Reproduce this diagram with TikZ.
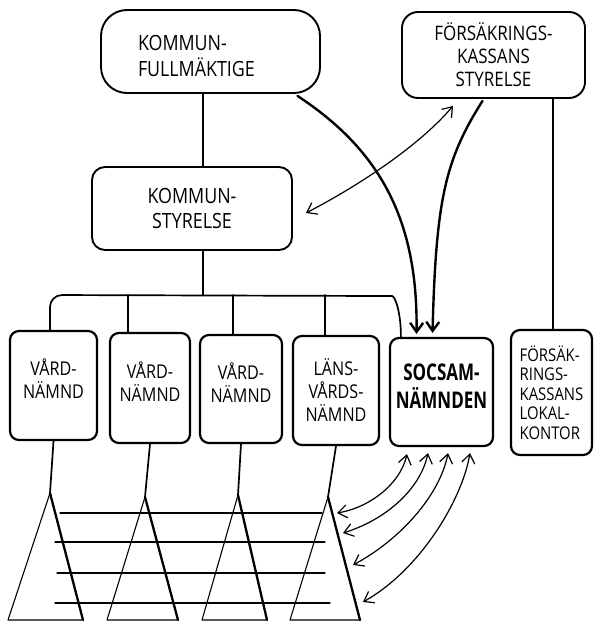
\documentclass[tikz,border=0pt]{standalone}
\usepackage{fontspec}
\setmainfont{Open Sans}[FakeStretch=0.85]
\newfontfamily\boardfont{Open Sans}[FakeStretch=0.74]
\usetikzlibrary{arrows.meta,calc}
\begin{document}
\begin{tikzpicture}[x=1pt,y=-1pt,
  line cap=round, line join=round,
  >={Straight Barb[length=9pt,width=13pt]},
  box/.style={draw, line width=1.9pt, rounded corners=#1, align=center, inner sep=0pt},
  box/.default=10pt,
  unit/.style={box=9pt, line width=2.2pt, font=\fontsize{19}{23}\selectfont},
  tree/.style={line width=1.7pt},
  feed/.style={line width=2.4pt, ->},
  link/.style={line width=1.2pt, <->},
  leg/.style={line width=1.1pt},
  heavyleg/.style={line width=2.3pt},
  rung/.style={line width=1.1pt},
]
\useasboundingbox (0,0) rectangle (596,623);

% upper level
\node[box=26pt, minimum width=219pt, minimum height=83pt, text width=145pt,
      align=left, text height=25pt, font=\fontsize{21}{26}\selectfont]
  (kf) at (210.5,51.5) {KOMMUN-\\FULLMÄKTIGE};
\node[box=16pt, minimum width=183pt, minimum height=86pt,
      font=\fontsize{20}{23}\selectfont]
  (fks) at (493.5,55) {FÖRSÄKRINGS-\\KASSANS\\STYRELSE};
\node[box=13pt, minimum width=200pt, minimum height=83pt,
      font=\fontsize{21}{25}\selectfont]
  (ks) at (192,208.5) {KOMMUN-\\STYRELSE};

% committees
\node[unit, minimum width=87pt, minimum height=109pt, text depth=13pt]
  (b1) at (53.5,385.5) {VÅRD-\\NÄMND};
\node[unit, minimum width=80pt, minimum height=110pt, text depth=13pt]
  (b2) at (150,388) {VÅRD-\\NÄMND};
\node[unit, minimum width=82pt, minimum height=108pt, text depth=13pt]
  (b3) at (241,389) {VÅRD-\\NÄMND};
\node[unit, minimum width=86pt, minimum height=109pt]
  (b4) at (336,390.5) {LÄNS-\\VÅRDS-\\NÄMND};
\node[unit, minimum width=103pt, minimum height=108pt, text depth=11pt,
      font=\fontsize{23}{28}\boardfont\bfseries]
  (soc) at (441.5,392) {SOCSAM-\\NÄMNDEN};
\node[unit, minimum width=81pt, minimum height=125pt, align=left,
      font=\fontsize{17.5}{19.5}\selectfont]
  (fklk) at (551.5,392.5) {FÖRSÄK-\\RINGS-\\KASSANS\\LOKAL-\\KONTOR};

% hierarchy lines
\coordinate (bus) at (203,295);
\coordinate (j1) at (50,295);
\coordinate (j2) at (128,295);
\coordinate (j3) at (233,295);
\coordinate (j4) at (325,295);
\coordinate (fkx) at (553,0);
\draw[tree] (kf.south -| bus) -- (ks.north -| bus);
\draw[tree] (ks.south -| bus) -- (bus);
\draw[tree, rounded corners=12pt] (b1.north -| j1) -- (j1) -- (380,296)
  .. controls (395,296) and (401,312) .. ($(soc.north west)+(12,0)$);
\draw[tree] (j2) -- (b2.north -| j2);
\draw[tree] (j3) -- (b3.north -| j3);
\draw[tree] (j4) -- (b4.north -| j4);
\draw[line width=1.3pt] (fks.south -| fkx) -- (fklk.north -| fkx);

% directives towards the joint board
\draw[feed] ($(kf.south)+(87,2)$) .. controls (380,150) and (418,220)
  .. ($(soc.north)+(-25,-3)$);
\draw[feed] ($(fks.south)+(-11,2)$) .. controls (445,160) and (436,200)
  .. ($(soc.north)+(-9,-4)$);
\draw[link] ($(ks.east)+(13,4.5)$) .. controls (360,185) and (420,145)
  .. ($(fks.south)+(-40.5,7)$);

% organisations below each committee
\foreach \n/\ax/\ay/\lx/\rx in {1/50/493/8/83, 2/145/497/107/178,
                                3/238/495/202/267, 4/328/497/290/360}{
  \coordinate (a\n) at (\ax,\ay);
  \coordinate (l\n) at (\lx,620);
  \coordinate (r\n) at (\rx,620);
  \draw[tree] (b\n.south) -- (a\n);
  \draw[leg] (a\n) -- (l\n) -- (r\n);
  \draw[heavyleg] (a\n) -- (r\n);
}

% cross-cutting levels
\draw[rung] (60,513) -- (322,513);
\draw[rung] (55,542) -- (325,542);
\draw[rung] (57,573) -- (325,573);
\draw[rung] (55,603) -- (330,603);

% contacts between the joint board and each level
\coordinate (p1) at (337,513);
\coordinate (p2) at (343,533);
\coordinate (p3) at (353,565);
\coordinate (p4) at (363,602);
\draw[link] (p1) .. controls (368,508) and (400,485) .. ($(soc.south)+(-34.5,7)$);
\draw[link] (p2) .. controls (385,520) and (420,490) .. ($(soc.south)+(-13.5,6)$);
\draw[link] (p3) .. controls (400,540) and (440,495) .. ($(soc.south)+(6.5,6)$);
\draw[link] (p4) .. controls (420,570) and (462,500) .. ($(soc.south)+(28.5,6)$);
\end{tikzpicture}
\end{document}
